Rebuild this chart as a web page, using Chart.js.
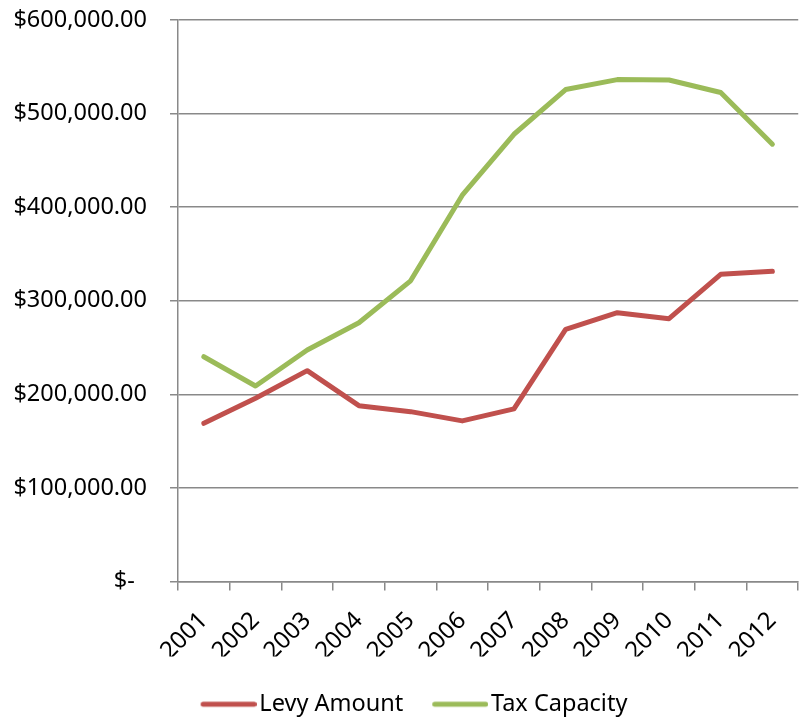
<!DOCTYPE html>
<html>
<head>
<meta charset="utf-8">
<script src="https://cdn.jsdelivr.net/npm/chart.js@4"></script>
<style>
  html, body { margin: 0; padding: 0; background: #fff; }
  #wrap { width: 809px; height: 717px; }
</style>
</head>
<body>
<div id="wrap"><canvas id="chart"></canvas></div>
<script>
// data
const years = ['2001','2002','2003','2004','2005','2006','2007','2008','2009','2010','2011','2012'];
const levyAmount = [169000, 195800, 225300, 187900, 181500, 171600, 184400, 269500, 287200, 280800, 328200, 331400];
const taxCapacity = [240200, 208900, 247400, 276500, 321300, 412800, 477900, 525700, 536300, 535900, 522500, 467300];
const yTicks = [0, 100000, 200000, 300000, 400000, 500000, 600000];

const colors = ['#C0504D', '#9BBB59'];
const gridGray = '#898989';
const font = { family: 'Noto Sans', size: 23.5 };

function money(v) {
  if (v === 0) return '$-  ';
  return '$' + v.toLocaleString('en-US', {minimumFractionDigits: 2, maximumFractionDigits: 2});
}

// legend swatch: a thick line that sits closer to the text than chart.js would put it
function swatch(color) {
  const c = document.createElement('canvas');
  c.width = 58; c.height = 8;
  const g = c.getContext('2d');
  g.strokeStyle = color; g.lineWidth = 5; g.lineCap = 'round';
  g.beginPath(); g.moveTo(4.5, 4); g.lineTo(55.5, 4); g.stroke();
  return c;
}
const swatches = colors.map(swatch);

// the excel legend sits a little right of centre
const legendShift = {
  id: 'legendShift',
  afterLayout(chart) {
    chart.legend.left += 16;
    chart.legend.right += 16;
  }
};

const ctx = document.getElementById('chart').getContext('2d');
new Chart(ctx, {
  type: 'line',
  data: {
    labels: years,
    datasets: [
      {label: 'Levy Amount', data: levyAmount, borderColor: colors[0], backgroundColor: colors[0],
       borderWidth: 5, pointRadius: 0, borderCapStyle: 'round', borderJoinStyle: 'round', tension: 0},
      {label: 'Tax Capacity', data: taxCapacity, borderColor: colors[1], backgroundColor: colors[1],
       borderWidth: 5, pointRadius: 0, borderCapStyle: 'round', borderJoinStyle: 'round', tension: 0}
    ]
  },
  plugins: [legendShift],
  options: {
    responsive: true,
    maintainAspectRatio: false,
    animation: false,
    layout: { padding: { left: 0, right: 6, top: 0, bottom: -9 } },
    plugins: {
      tooltip: { enabled: false },
      legend: {
        position: 'bottom',
        labels: {
          font: font, color: '#000',
          usePointStyle: true, pointStyleWidth: 40,
          boxHeight: 5, boxWidth: 40, padding: 36,
          generateLabels: chart => {
            const items = Chart.defaults.plugins.legend.labels.generateLabels(chart);
            items.forEach((it, i) => { it.pointStyle = swatches[i]; });
            return items;
          }
        }
      }
    },
    scales: {
      x: {
        offset: true,
        afterFit: s => { s.height = 75; },
        grid: { offset: true, drawOnChartArea: false, color: gridGray, lineWidth: 1.5, tickLength: 9 },
        border: { color: gridGray, width: 1.5 },
        ticks: { font: { family: 'Noto Sans', size: 24 }, color: '#000', minRotation: 45, maxRotation: 45, autoSkip: false, padding: 16 }
      },
      y: {
        min: 0, max: 600000,
        afterBuildTicks: s => { s.ticks = yTicks.map(v => ({value: v})); },
        afterFit: s => { s.width = 178; s.paddingTop = 20; s.paddingBottom = 0; },
        grid: { color: gridGray, lineWidth: 1.5, tickLength: 8 },
        border: { color: gridGray, width: 1.5 },
        ticks: { font: font, color: '#000', padding: 23, callback: v => money(v) }
      }
    }
  }
});
</script>
</body>
</html>
